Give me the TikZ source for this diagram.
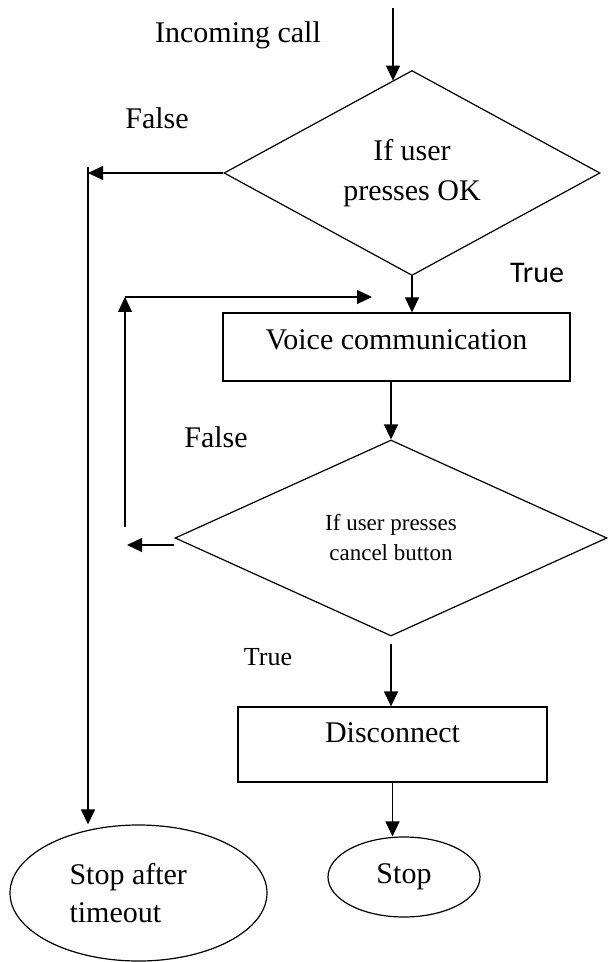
\documentclass[tikz,border=0pt]{standalone}
\usepackage{fontspec}
\setmainfont{Liberation Serif}
\newfontfamily\calibri{Carlito}
\usetikzlibrary{shapes.geometric,arrows.meta}

\begin{document}
\begin{tikzpicture}[x=0.5pt, y=-0.5pt, line width=0.6pt,
        >={Triangle[length=7.5pt,width=7pt]},
        decision/.style={diamond, draw, inner sep=0pt, align=center},
        process/.style={rectangle, draw, inner sep=0pt, text height=10pt},
        terminal/.style={ellipse, draw, inner sep=0pt},
        txt/.style={font=\fontsize{15}{20}\selectfont}]
        \useasboundingbox (0,0) rectangle (608,962);

        \node[decision, txt, minimum width=188pt, minimum height=102pt] (Q_ok) at (412,173) {If user\\presses OK};
        \node[process, txt, text depth=8pt, minimum width=173.5pt, minimum height=34pt] (Voice) at (396.5,347) {Voice communication};
        \node[decision, font=\fontsize{11.5}{15}\selectfont, minimum width=216pt, minimum height=98pt] (Q_cancel) at (391,538) {If user presses\\cancel button};
        \node[process, txt, text depth=12pt, minimum width=154.5pt, minimum height=37.5pt] (Disc) at (392.5,744.5) {Disconnect};
        \node[terminal, font=\fontsize{15}{19}\selectfont, align=flush left, text width=69pt, minimum width=128.5pt, minimum height=68pt] (Stop_to) at (138.5,893) {Stop after\\timeout};
        \node[terminal, txt, minimum width=76pt, minimum height=40pt] (Stop) at (404,877) {Stop};

        \node[txt] (L_in) at (238,35) {Incoming call};
        \node[txt] (L_f1) at (157,118) {False};
        \node[font=\calibri\fontsize{15}{18}\selectfont] (L_t1) at (537,273) {True};
        \node[txt] (L_f2) at (216,437) {False};
        \node[font=\fontsize{13}{16}\selectfont] (L_t2) at (268,657) {True};

        \coordinate (C_in) at (393,8);
        \coordinate (C_f1) at (88,173);
        \coordinate (C_f) at (88,167);
        \coordinate (C_f2) at (127,545);
        \coordinate (C_l1) at (125,527);
        \coordinate (C_l2) at (125,297);
        \coordinate (C_l3) at (372,297);

        \draw[->] (C_in) -- (C_in |- Q_ok.102);
        \draw[->] (Q_ok.west) -- (C_f1);
        \draw[->] (C_f) -- (C_f |- Stop_to.north);
        \draw[->] (Q_ok.south) -- (Q_ok.south |- Voice.north);
        \draw[->] (Q_cancel.north |- Voice.south) -- (Q_cancel.north);
        \draw[->] ([yshift=-3.5pt]Q_cancel.west) -- (C_f2);
        \draw[->] (C_l1) -- (C_l2);
        \draw[->] (C_l2) -- (C_l3);
        \draw[->] ([yshift=-3.5pt]Q_cancel.south) -- (Q_cancel.south |- Disc.north);
        \draw[->] (Disc.south) -- (Disc.south |- Stop.north);
    \end{tikzpicture}
\end{document}
